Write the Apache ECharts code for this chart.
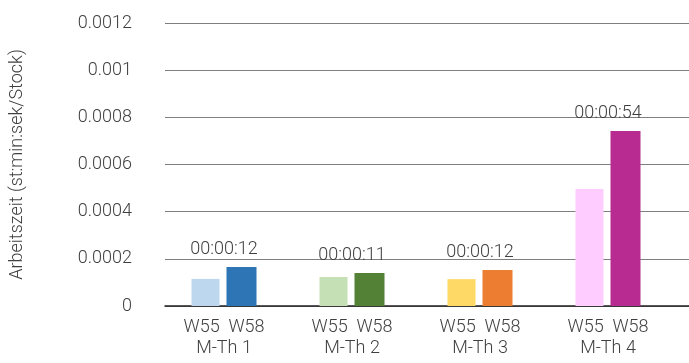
<!DOCTYPE html>
<html>
<head>
<meta charset="utf-8">
<script src="https://cdn.jsdelivr.net/npm/echarts@6/dist/echarts.min.js"></script>
<style>
  html, body { margin: 0; padding: 0; background: #fff; }
  #chart { width: 689px; height: 363px; }
</style>
</head>
<body>
<div id="chart"></div>
<script>
// Work time per piece (fraction of a day), two measurements per machine
const machines = ['M-Th 1', 'M-Th 2', 'M-Th 3', 'M-Th 4'];
const w55Values = [0.000115, 0.000123, 0.000114, 0.000496];
const w58Values = [0.000165, 0.00014, 0.000153, 0.000742];
const groupLabels = ['00:00:12', '00:00:11', '00:00:12', '00:00:54'];
const yTicks = [0, 0.0002, 0.0004, 0.0006, 0.0008, 0.001, 0.0012];

const w55Colors = ['#BDD7EE', '#C5E0B4', '#FFD966', '#FFCCFF'];
const w58Colors = ['#2E75B6', '#538135', '#ED7D31', '#B82B91'];

const FONT = 'Roboto, "Noto Sans", sans-serif';
const TEXT = '#3f3f3f';
const yMin = yTicks[0];
const yMax = yTicks[yTicks.length - 1];
const yStep = yTicks[1] - yTicks[0];

const chart = echarts.init(document.getElementById('chart'));
chart.setOption({
  animation: false,
  textStyle: { fontFamily: FONT, color: TEXT },
  grid: [
    // full-width grid carrying the value scale and its gridlines
    { left: 160, right: 0, top: 23, bottom: 57, containLabel: false },
    // grid for the bars
    { left: 160, right: 17, top: 23, bottom: 57, containLabel: false }
  ],
  xAxis: [
    {
      gridIndex: 0, type: 'category', data: machines,
      axisLine: { show: true, lineStyle: { color: '#222', width: 1.5 } },
      axisTick: { show: false }, axisLabel: { show: false }, splitLine: { show: false }
    },
    {
      gridIndex: 1, type: 'category', data: machines,
      axisLine: { show: false }, axisTick: { show: false },
      axisLabel: {
        margin: 11, fontSize: 18, fontWeight: 300, color: TEXT, lineHeight: 21,
        formatter: (v) => 'W55  W58\n' + v
      }
    }
  ],
  yAxis: [
    {
      gridIndex: 0, type: 'value', min: yMin, max: yMax, interval: yStep,
      name: 'Arbeitszeit (st:min:sek/Stock)', nameLocation: 'middle', nameGap: 139,
      nameTextStyle: { fontSize: 18, fontWeight: 300, color: TEXT },
      axisLine: { show: false }, axisTick: { show: false },
      axisLabel: {
        margin: 33, fontSize: 18, fontWeight: 300, color: TEXT,
        formatter: (v) => String(parseFloat(v.toPrecision(6)))
      },
      splitLine: { show: true, lineStyle: { color: '#7f7f7f', width: 1 } }
    },
    {
      gridIndex: 1, type: 'value', min: yMin, max: yMax, interval: yStep,
      show: false, splitLine: { show: false }
    }
  ],
  series: [
    {
      name: 'W55', type: 'bar', xAxisIndex: 1, yAxisIndex: 1,
      barWidth: 28, barGap: '25%',
      data: w55Values.map((v, i) => ({ value: v, itemStyle: { color: w55Colors[i] } }))
    },
    {
      name: 'W58', type: 'bar', xAxisIndex: 1, yAxisIndex: 1,
      barWidth: 30, barGap: '25%',
      data: w58Values.map((v, i) => ({ value: v, itemStyle: { color: w58Colors[i] } }))
    },
    {
      // per-machine time labels above each pair of bars
      name: 'labels', type: 'scatter', xAxisIndex: 1, yAxisIndex: 1,
      symbolSize: 1, itemStyle: { color: 'rgba(0,0,0,0)', opacity: 1 }, silent: true,
      data: machines.map((m, i) => Math.max(w55Values[i], w58Values[i])),
      label: {
        show: true, position: 'top', distance: 8, opacity: 1,
        fontSize: 18, fontWeight: 300, color: TEXT,
        formatter: (p) => groupLabels[p.dataIndex]
      }
    }
  ]
});
</script>
</body>
</html>
